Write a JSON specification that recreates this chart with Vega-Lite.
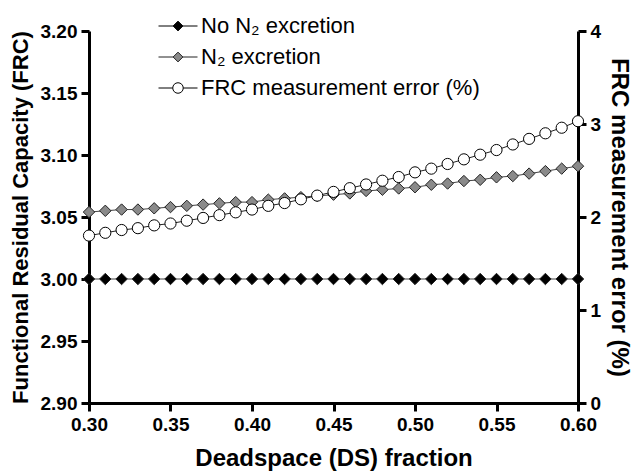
{
  "$schema": "https://vega.github.io/schema/vega-lite/v6.json",
  "width": 489,
  "height": 372,
  "autosize": "none",
  "padding": {"left": 89, "top": 31, "right": 60, "bottom": 69},
  "background": "white",
  "config": {
    "view": {"stroke": null},
    "font": "Liberation Sans",
    "axis": {
      "domainColor": "black", "domainWidth": 3, "tickColor": "black", "tickWidth": 3, "tickSize": 8,
      "labelFont": "Liberation Sans", "labelFontWeight": "bold", "labelFontSize": 19, "labelColor": "black",
      "titleFont": "Liberation Sans", "titleFontWeight": "bold", "titleColor": "black", "grid": false, "labelPadding": 4, "labelFlush": false
    },
    "legend": {
      "orient": "none", "legendX": 69, "legendY": -25, "title": null, "padding": 0,
      "labelFont": "Liberation Sans", "labelFontSize": 22, "labelColor": "black", "labelLimit": 500,
      "symbolSize": 1521, "symbolStrokeColor": "black", "symbolStrokeWidth": 1, "symbolOpacity": 1, "rowPadding": -5, "labelOffset": 3
    }
  },
  "data": {"values": [
    {"ds": 0.30, "series": "No N₂ excretion", "v": 3.0}, {"ds": 0.31, "series": "No N₂ excretion", "v": 3.0},
    {"ds": 0.32, "series": "No N₂ excretion", "v": 3.0}, {"ds": 0.33, "series": "No N₂ excretion", "v": 3.0},
    {"ds": 0.34, "series": "No N₂ excretion", "v": 3.0}, {"ds": 0.35, "series": "No N₂ excretion", "v": 3.0},
    {"ds": 0.36, "series": "No N₂ excretion", "v": 3.0}, {"ds": 0.37, "series": "No N₂ excretion", "v": 3.0},
    {"ds": 0.38, "series": "No N₂ excretion", "v": 3.0}, {"ds": 0.39, "series": "No N₂ excretion", "v": 3.0},
    {"ds": 0.40, "series": "No N₂ excretion", "v": 3.0}, {"ds": 0.41, "series": "No N₂ excretion", "v": 3.0},
    {"ds": 0.42, "series": "No N₂ excretion", "v": 3.0}, {"ds": 0.43, "series": "No N₂ excretion", "v": 3.0},
    {"ds": 0.44, "series": "No N₂ excretion", "v": 3.0}, {"ds": 0.45, "series": "No N₂ excretion", "v": 3.0},
    {"ds": 0.46, "series": "No N₂ excretion", "v": 3.0}, {"ds": 0.47, "series": "No N₂ excretion", "v": 3.0},
    {"ds": 0.48, "series": "No N₂ excretion", "v": 3.0}, {"ds": 0.49, "series": "No N₂ excretion", "v": 3.0},
    {"ds": 0.50, "series": "No N₂ excretion", "v": 3.0}, {"ds": 0.51, "series": "No N₂ excretion", "v": 3.0},
    {"ds": 0.52, "series": "No N₂ excretion", "v": 3.0}, {"ds": 0.53, "series": "No N₂ excretion", "v": 3.0},
    {"ds": 0.54, "series": "No N₂ excretion", "v": 3.0}, {"ds": 0.55, "series": "No N₂ excretion", "v": 3.0},
    {"ds": 0.56, "series": "No N₂ excretion", "v": 3.0}, {"ds": 0.57, "series": "No N₂ excretion", "v": 3.0},
    {"ds": 0.58, "series": "No N₂ excretion", "v": 3.0}, {"ds": 0.59, "series": "No N₂ excretion", "v": 3.0},
    {"ds": 0.60, "series": "No N₂ excretion", "v": 3.0},
    {"ds": 0.30, "series": "N₂ excretion", "v": 3.054}, {"ds": 0.31, "series": "N₂ excretion", "v": 3.055},
    {"ds": 0.32, "series": "N₂ excretion", "v": 3.056}, {"ds": 0.33, "series": "N₂ excretion", "v": 3.056},
    {"ds": 0.34, "series": "N₂ excretion", "v": 3.057}, {"ds": 0.35, "series": "N₂ excretion", "v": 3.058},
    {"ds": 0.36, "series": "N₂ excretion", "v": 3.059}, {"ds": 0.37, "series": "N₂ excretion", "v": 3.060},
    {"ds": 0.38, "series": "N₂ excretion", "v": 3.061}, {"ds": 0.39, "series": "N₂ excretion", "v": 3.062},
    {"ds": 0.40, "series": "N₂ excretion", "v": 3.062}, {"ds": 0.41, "series": "N₂ excretion", "v": 3.064},
    {"ds": 0.42, "series": "N₂ excretion", "v": 3.065}, {"ds": 0.43, "series": "N₂ excretion", "v": 3.066},
    {"ds": 0.44, "series": "N₂ excretion", "v": 3.067}, {"ds": 0.45, "series": "N₂ excretion", "v": 3.068},
    {"ds": 0.46, "series": "N₂ excretion", "v": 3.069}, {"ds": 0.47, "series": "N₂ excretion", "v": 3.071},
    {"ds": 0.48, "series": "N₂ excretion", "v": 3.072}, {"ds": 0.49, "series": "N₂ excretion", "v": 3.073},
    {"ds": 0.50, "series": "N₂ excretion", "v": 3.074}, {"ds": 0.51, "series": "N₂ excretion", "v": 3.076},
    {"ds": 0.52, "series": "N₂ excretion", "v": 3.077}, {"ds": 0.53, "series": "N₂ excretion", "v": 3.079},
    {"ds": 0.54, "series": "N₂ excretion", "v": 3.080}, {"ds": 0.55, "series": "N₂ excretion", "v": 3.082},
    {"ds": 0.56, "series": "N₂ excretion", "v": 3.083}, {"ds": 0.57, "series": "N₂ excretion", "v": 3.085},
    {"ds": 0.58, "series": "N₂ excretion", "v": 3.087}, {"ds": 0.59, "series": "N₂ excretion", "v": 3.089},
    {"ds": 0.60, "series": "N₂ excretion", "v": 3.091},
    {"ds": 0.30, "series": "FRC measurement error (%)", "v": 1.80}, {"ds": 0.31, "series": "FRC measurement error (%)", "v": 1.83},
    {"ds": 0.32, "series": "FRC measurement error (%)", "v": 1.86}, {"ds": 0.33, "series": "FRC measurement error (%)", "v": 1.88},
    {"ds": 0.34, "series": "FRC measurement error (%)", "v": 1.91}, {"ds": 0.35, "series": "FRC measurement error (%)", "v": 1.93},
    {"ds": 0.36, "series": "FRC measurement error (%)", "v": 1.96}, {"ds": 0.37, "series": "FRC measurement error (%)", "v": 1.99},
    {"ds": 0.38, "series": "FRC measurement error (%)", "v": 2.02}, {"ds": 0.39, "series": "FRC measurement error (%)", "v": 2.05},
    {"ds": 0.40, "series": "FRC measurement error (%)", "v": 2.08}, {"ds": 0.41, "series": "FRC measurement error (%)", "v": 2.12},
    {"ds": 0.42, "series": "FRC measurement error (%)", "v": 2.15}, {"ds": 0.43, "series": "FRC measurement error (%)", "v": 2.19},
    {"ds": 0.44, "series": "FRC measurement error (%)", "v": 2.23}, {"ds": 0.45, "series": "FRC measurement error (%)", "v": 2.27},
    {"ds": 0.46, "series": "FRC measurement error (%)", "v": 2.31}, {"ds": 0.47, "series": "FRC measurement error (%)", "v": 2.35},
    {"ds": 0.48, "series": "FRC measurement error (%)", "v": 2.39}, {"ds": 0.49, "series": "FRC measurement error (%)", "v": 2.43},
    {"ds": 0.50, "series": "FRC measurement error (%)", "v": 2.48}, {"ds": 0.51, "series": "FRC measurement error (%)", "v": 2.52},
    {"ds": 0.52, "series": "FRC measurement error (%)", "v": 2.57}, {"ds": 0.53, "series": "FRC measurement error (%)", "v": 2.62},
    {"ds": 0.54, "series": "FRC measurement error (%)", "v": 2.67}, {"ds": 0.55, "series": "FRC measurement error (%)", "v": 2.72},
    {"ds": 0.56, "series": "FRC measurement error (%)", "v": 2.78}, {"ds": 0.57, "series": "FRC measurement error (%)", "v": 2.84},
    {"ds": 0.58, "series": "FRC measurement error (%)", "v": 2.90}, {"ds": 0.59, "series": "FRC measurement error (%)", "v": 2.96},
    {"ds": 0.60, "series": "FRC measurement error (%)", "v": 3.03}
  ]},
  "encoding": {
    "x": {
      "field": "ds", "type": "quantitative",
      "scale": {"domain": [0.3, 0.6], "nice": false, "zero": false},
      "axis": {"values": [0.3, 0.35, 0.4, 0.45, 0.5, 0.55, 0.6], "format": ".2f", "title": "Deadspace (DS) fraction", "titleFontSize": 24, "titlePadding": 12}
    }
  },
  "layer": [
    {
      "transform": [{"filter": "datum.series !== 'FRC measurement error (%)'"}],
      "encoding": {
        "y": {
          "field": "v", "type": "quantitative",
          "scale": {"domain": [2.9, 3.2], "nice": false, "zero": false},
          "axis": {"values": [2.9, 2.95, 3.0, 3.05, 3.1, 3.15, 3.2], "format": ".2f", "title": "Functional Residual Capacity (FRC)", "titleFontSize": 22, "titlePadding": 8}
        }
      },
      "layer": [
        {"mark": {"type": "line", "color": "#444", "strokeWidth": 1}, "encoding": {"detail": {"field": "series"}}},
        {"mark": {"type": "point", "shape": "diamond", "filled": true, "stroke": "#222", "strokeWidth": 1, "size": 130, "opacity": 1},
         "encoding": {
           "fill": {"field": "series", "type": "nominal",
             "scale": {"domain": ["No N₂ excretion", "N₂ excretion", "FRC measurement error (%)"], "range": ["black", "#8a8a8a", "white"]}}
         }},
        {"mark": {"type": "point", "filled": true, "strokeWidth": 1, "opacity": 0},
         "encoding": {
           "fill": {"field": "series", "type": "nominal",
             "scale": {"domain": ["No N₂ excretion", "N₂ excretion", "FRC measurement error (%)"], "range": ["black", "#8a8a8a", "white"]}},
           "stroke": {"field": "series", "type": "nominal",
             "scale": {"domain": ["No N₂ excretion", "N₂ excretion", "FRC measurement error (%)"], "range": ["black", "#222222", "black"]}},
           "shape": {"field": "series", "type": "nominal",
             "scale": {"domain": ["No N₂ excretion", "N₂ excretion", "FRC measurement error (%)"],
               "range": ["M-1,0L-0.25,0M0.25,0L1,0M0,-0.25L0.25,0L0,0.25L-0.25,0Z", "M-1,0L-0.25,0M0.25,0L1,0M0,-0.25L0.25,0L0,0.25L-0.25,0Z", "M-1,0L-0.27,0M0.27,0L1,0M-0.27,0A0.27,0.27 0 1,1 0.27,0A0.27,0.27 0 1,1 -0.27,0Z"]}}
         }}
      ]
    },
    {
      "transform": [{"filter": "datum.series === 'FRC measurement error (%)'"}],
      "encoding": {
        "y": {
          "field": "v", "type": "quantitative",
          "scale": {"domain": [0, 4], "nice": false, "zero": false},
          "axis": {"orient": "right", "values": [0, 1, 2, 3, 4], "format": "d", "title": "FRC measurement error (%)", "titleFontSize": 24, "titlePadding": 6, "titleAngle": 90}
        }
      },
      "layer": [
        {"mark": {"type": "line", "color": "#222", "strokeWidth": 1}, "encoding": {"detail": {"field": "series"}}},
        {"mark": {"type": "point", "shape": "circle", "filled": true, "stroke": "black", "strokeWidth": 1, "size": 125, "opacity": 1},
         "encoding": {
           "fill": {"field": "series", "type": "nominal",
             "scale": {"domain": ["No N₂ excretion", "N₂ excretion", "FRC measurement error (%)"], "range": ["black", "#8a8a8a", "white"]}}
         }}
      ]
    }
  ],
  "resolve": {"scale": {"y": "independent"}}
}
